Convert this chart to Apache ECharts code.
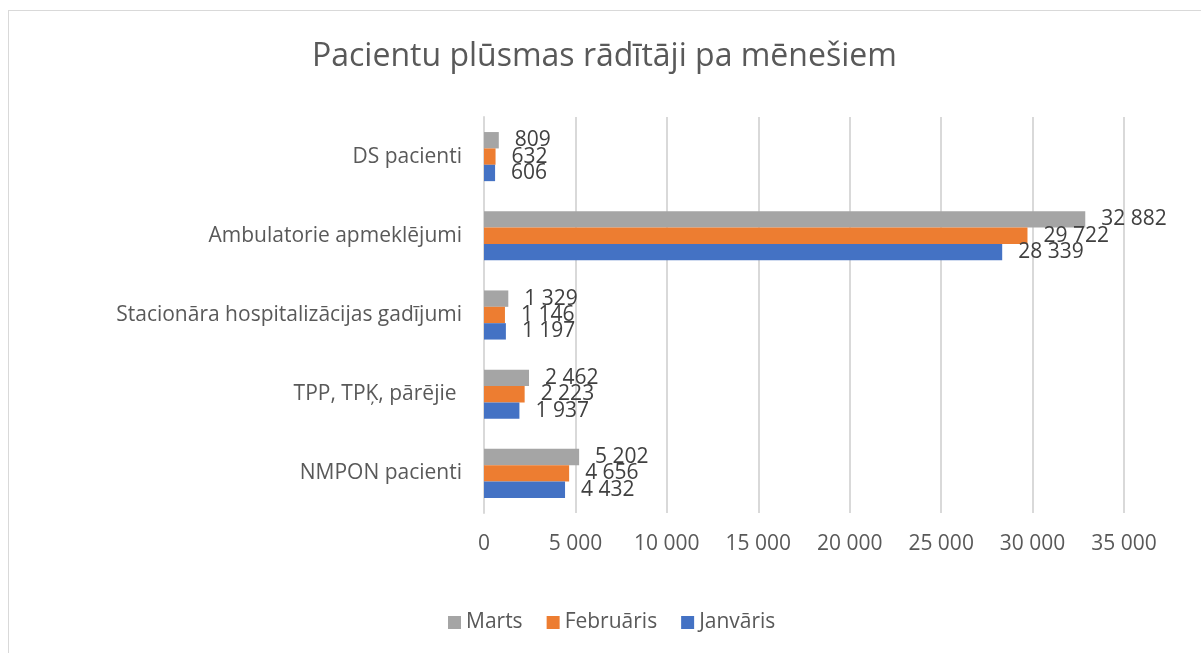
<!DOCTYPE html>
<html>
<head>
<meta charset="utf-8">
<script src="https://cdn.jsdelivr.net/npm/echarts@6/dist/echarts.min.js"></script>
<style>
html,body{margin:0;padding:0;background:#fff;overflow:hidden;}
#frame{position:absolute;left:8px;top:10px;width:1400px;height:800px;border:1px solid #d9d9d9;box-sizing:border-box;}
#chart{position:absolute;left:0;top:0;width:1201px;height:653px;}
</style>
</head>
<body>
<div id="frame"></div>
<div id="chart"></div>
<script>
const categories = ['NMPON pacienti', 'TPP, TPĶ, pārējie ', 'Stacionāra hospitalizācijas gadījumi', 'Ambulatorie apmeklējumi', 'DS pacienti'];
const janvaris = [4432, 1937, 1197, 28339, 606];
const februaris = [4656, 2223, 1146, 29722, 632];
const marts = [5202, 2462, 1329, 32882, 809];
const seriesNames = ['Marts', 'Februāris', 'Janvāris'];
const legendOrder = ['Marts', 'Februāris', 'Janvāris'];
const xTicks = {min: 0, max: 35000, interval: 5000};

const FONT = 'Open Sans';
function fmt(v){ return String(Math.round(v)).replace(/\B(?=(\d{3})+(?!\d))/g, ' '); }
const colors = {'Janvāris':'#4472C4','Februāris':'#ED7D31','Marts':'#A5A5A5'};
const dataMap = {'Janvāris':janvaris,'Februāris':februaris,'Marts':marts};

const chart = echarts.init(document.getElementById('chart'), null, {renderer:'canvas'});
chart.setOption({
  animation:false,
  textStyle:{fontFamily:FONT},
  title:{text:'Pacientu plūsmas rādītāji pa mēnešiem', left:307, top:36,
    textStyle:{fontFamily:FONT, fontSize:32, fontWeight:'normal', color:'#595959'}},
  legend:{data:legendOrder, top:607, left:443, itemWidth:13, itemHeight:13, itemGap:24,
    icon:'rect', textStyle:{fontFamily:FONT, fontSize:21, color:'#595959'}},
  grid:{left:484, right:77, top:117, bottom:140, containLabel:false},
  xAxis:{type:'value', min:xTicks.min, max:xTicks.max, interval:xTicks.interval,
    axisLine:{show:false}, axisTick:{show:false},
    splitLine:{lineStyle:{color:'#d9d9d9', width:2}},
    axisLabel:{formatter:fmt, fontFamily:FONT, fontSize:21, color:'#595959', margin:21}},
  yAxis:{type:'category', data:categories,
    axisLine:{show:true, lineStyle:{color:'#d9d9d9', width:2}}, axisTick:{show:false},
    axisLabel:{fontFamily:FONT, fontSize:21, color:'#595959', margin:22}},
  series: seriesNames.map(n => ({
    name:n, type:'bar', data:dataMap[n], barGap:'0%', barCategoryGap:'38%',
    itemStyle:{color:colors[n]},
    label:{show:true, position:'right', distance:16, formatter:p=>fmt(p.value),
      fontFamily:FONT, fontSize:21, color:'#404040'}
  }))
});
</script>
</body>
</html>
